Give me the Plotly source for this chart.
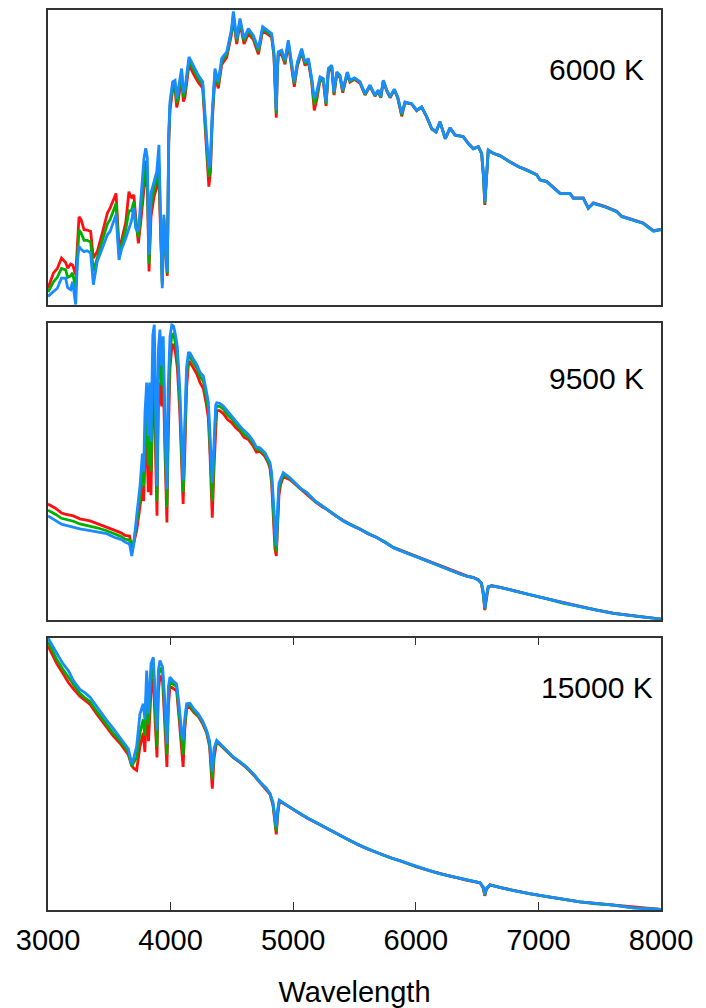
import plotly.graph_objects as go

# ---------------- 6000 K ----------------
wl_6000 = [3000, 3045, 3076, 3110, 3144, 3160, 3185, 3200, 3226, 3240, 3253, 3270, 3294, 3320, 3348, 3370,
           3402, 3440, 3484, 3506, 3538, 3555, 3579, 3600, 3634, 3660, 3680, 3700, 3715, 3737, 3756, 3770,
           3783, 3797, 3810, 3824, 3840, 3865, 3887, 3905, 3918, 3932, 3945, 3955, 3973, 3985, 3995, 4017,
           4036, 4050, 4063, 4090, 4104, 4117, 4150, 4185, 4226, 4262, 4281, 4300, 4312, 4325, 4340, 4362,
           4389, 4417, 4458, 4498, 4512, 4539, 4566, 4599, 4634, 4675, 4716, 4751, 4790, 4824, 4843, 4852,
           4862, 4870, 4878, 4906, 4933, 4960, 4988, 5009, 5034, 5069, 5096, 5124, 5151, 5172, 5192, 5219,
           5246, 5268, 5287, 5314, 5333, 5355, 5382, 5404, 5441, 5463, 5500, 5545, 5586, 5626, 5667, 5694,
           5714, 5735, 5763, 5790, 5825, 5852, 5885, 5912, 5967, 6007, 6048, 6089, 6130, 6165, 6197, 6241,
           6279, 6320, 6387, 6428, 6469, 6510, 6537, 6552, 6563, 6575, 6591, 6632, 6687, 6768, 6836, 6905,
           6986, 7013, 7068, 7176, 7258, 7285, 7366, 7407, 7448, 7543, 7639, 7680, 7774, 7856, 7938, 8000]
red_6000 = [5.8, 11.0, 12.5, 16.0, 14.5, 12.6, 14.0, 13.7, 10.4, 22.0, 30.0, 29.0, 25.6, 25.5, 25.0, 16.0,
            18.2, 24.0, 31.2, 32.9, 36.0, 37.9, 19.9, 22.0, 28.0, 38.5, 36.3, 37.4, 30.0, 21.0, 28.0, 33.4,
            40.0, 45.3, 40.0, 11.5, 30.0, 36.8, 40.0, 42.5, 25.0, 8.0, 28.0, 20.0, 10.0, 55.0, 66.0, 73.0,
            73.5, 67.0, 69.5, 77.5, 69.0, 70.5, 81.5, 78.5, 75.5, 73.5, 61.0, 50.0, 40.2, 45.0, 62.5, 77.5,
            73.5, 81.5, 84.0, 92.0, 97.5, 88.5, 95.5, 88.5, 92.0, 90.0, 85.0, 93.0, 91.8, 90.8, 84.3, 73.0,
            63.5, 78.5, 84.5, 85.0, 81.6, 88.5, 80.0, 74.0, 81.0, 85.8, 81.2, 82.5, 75.5, 66.0, 69.5, 76.2,
            75.8, 67.5, 79.2, 80.5, 71.2, 78.2, 77.2, 72.0, 78.3, 75.6, 76.5, 75.2, 71.2, 74.2, 70.8, 72.6,
            70.3, 75.9, 72.6, 70.3, 72.9, 70.3, 64.0, 68.6, 68.1, 65.9, 67.1, 63.7, 59.7, 58.7, 62.1, 56.4,
            60.1, 57.7, 57.2, 54.9, 53.1, 53.8, 51.4, 43.5, 34.0, 43.5, 52.5, 51.5, 50.7, 48.6, 47.0, 45.9,
            44.3, 42.5, 42.0, 38.0, 37.9, 36.4, 36.4, 33.0, 34.7, 33.5, 31.9, 30.2, 29.1, 27.9, 25.3, 25.7]
green_6000 = [4.5, 8.0, 9.5, 12.5, 12.0, 9.5, 10.0, 11.0, 6.0, 18.0, 25.5, 24.5, 22.0, 22.0, 21.5, 11.5,
              16.5, 21.5, 27.5, 29.0, 32.5, 34.5, 17.5, 20.5, 25.5, 32.0, 32.0, 35.0, 28.0, 23.0, 31.5, 38.0,
              45.0, 49.0, 45.0, 14.0, 34.0, 39.5, 42.5, 48.0, 27.5, 7.0, 29.5, 21.0, 10.8, 57.0, 67.5, 74.5,
              75.0, 68.5, 71.2, 79.0, 70.5, 72.0, 83.0, 80.0, 76.8, 74.6, 62.8, 52.5, 43.5, 47.5, 64.0, 79.0,
              74.6, 82.6, 85.0, 93.0, 98.5, 89.5, 96.4, 89.5, 93.0, 90.8, 86.0, 93.7, 92.5, 91.4, 85.0, 74.0,
              65.0, 79.2, 85.2, 85.8, 82.3, 89.2, 80.7, 75.0, 81.7, 86.4, 81.8, 83.0, 76.2, 68.0, 71.0, 76.8,
              76.3, 68.2, 79.7, 80.9, 71.8, 78.6, 77.5, 72.5, 78.7, 75.9, 76.8, 75.5, 71.4, 74.4, 71.0, 72.7,
              70.4, 76.0, 72.8, 70.5, 73.0, 70.5, 64.5, 68.7, 68.2, 66.0, 67.1, 63.8, 59.8, 58.7, 62.1, 56.4,
              60.0, 57.6, 57.0, 54.7, 53.0, 53.6, 51.4, 43.8, 34.5, 43.8, 52.5, 51.4, 50.6, 48.5, 46.9, 45.7,
              44.1, 42.4, 41.8, 37.8, 37.8, 36.2, 36.2, 32.8, 34.5, 33.3, 31.7, 30.0, 28.9, 27.7, 25.1, 25.6]
blue_6000 = [3.0, 4.7, 5.8, 9.2, 9.2, 6.0, 5.3, 8.0, 0.3, 14.9, 20.0, 19.0, 18.2, 18.5, 17.7, 7.0,
             14.9, 19.0, 23.9, 25.0, 29.0, 30.7, 15.4, 19.0, 22.7, 26.0, 28.4, 33.0, 26.1, 25.0, 35.1, 43.0,
             49.8, 53.2, 50.0, 17.1, 38.0, 41.9, 45.3, 54.3, 30.0, 5.8, 30.7, 22.0, 11.5, 58.8, 69.0, 75.7,
             76.2, 70.0, 72.9, 80.2, 72.0, 73.4, 84.1, 81.3, 77.9, 75.7, 64.4, 55.0, 46.4, 50.0, 65.5, 80.2,
             75.7, 83.6, 85.8, 93.7, 99.5, 90.3, 97.1, 90.3, 93.7, 91.4, 86.9, 94.3, 93.0, 92.0, 85.8, 75.0,
             66.1, 80.0, 85.8, 86.4, 83.0, 89.8, 81.3, 75.7, 82.4, 86.9, 82.4, 83.6, 76.8, 70.0, 72.3, 77.4,
             76.8, 68.9, 80.2, 81.3, 72.3, 79.0, 77.9, 72.9, 79.0, 76.2, 77.0, 75.7, 71.7, 74.6, 71.2, 72.9,
             70.6, 76.2, 72.9, 70.6, 73.2, 70.6, 65.0, 68.9, 68.3, 66.1, 67.2, 63.9, 59.9, 58.8, 62.2, 56.5,
             60.1, 57.7, 57.1, 54.8, 53.1, 53.7, 51.5, 44.0, 35.1, 44.0, 52.6, 51.5, 50.7, 48.6, 47.0, 45.8,
             44.2, 42.5, 41.9, 37.9, 37.9, 36.3, 36.3, 32.9, 34.6, 33.4, 31.8, 30.1, 29.0, 27.8, 25.2, 25.7]

# ---------------- 9500 K ----------------
wl_9500 = [3000, 3060, 3110, 3140, 3207, 3260, 3343, 3400, 3479, 3540, 3600, 3628, 3665, 3683, 3700, 3723,
           3750, 3770, 3780, 3791, 3805, 3818, 3830, 3840, 3855, 3867, 3878, 3889, 3900, 3913, 3927, 3940,
           3955, 3970, 3980, 3995, 4010, 4025, 4040, 4055, 4075, 4090, 4102, 4115, 4130, 4145, 4158, 4185,
           4213, 4240, 4267, 4290, 4308, 4322, 4340, 4355, 4368, 4376, 4400, 4430, 4465, 4498, 4530, 4566,
           4600, 4634, 4670, 4700, 4729, 4770, 4797, 4811, 4824, 4838, 4851, 4862, 4872, 4884, 4897, 4919,
           4974, 5020, 5055, 5110, 5178, 5230, 5273, 5340, 5409, 5480, 5545, 5610, 5681, 5750, 5817, 5890,
           5953, 6020, 6089, 6160, 6224, 6290, 6360, 6420, 6469, 6510, 6535, 6550, 6563, 6575, 6591, 6619,
           6687, 6795, 6930, 7068, 7200, 7339, 7470, 7611, 7774, 7900, 8000]
red_9500 = [39.0, 37.6, 36.0, 35.6, 35.0, 34.0, 33.3, 32.4, 31.4, 30.2, 29.2, 28.4, 28.2, 24.3, 26.0, 30.0,
            38.0, 45.0, 40.0, 55.0, 60.0, 43.0, 58.0, 42.0, 75.0, 80.0, 55.0, 35.1, 72.0, 80.0, 72.0, 82.0,
            55.0, 32.8, 60.0, 85.0, 92.0, 93.0, 90.0, 85.0, 70.0, 50.0, 39.0, 55.0, 78.0, 86.0, 86.8, 85.0,
            83.0, 80.0, 78.0, 73.0, 68.0, 55.0, 34.4, 52.0, 68.0, 70.5, 70.5, 69.5, 67.5, 66.5, 64.8, 63.5,
            61.5, 60.8, 58.8, 56.5, 56.8, 55.0, 52.8, 51.0, 46.0, 33.0, 24.0, 21.5, 30.0, 42.0, 45.5, 48.2,
            47.2, 45.5, 44.2, 42.5, 39.8, 38.2, 37.2, 35.2, 33.4, 31.8, 30.6, 29.0, 27.8, 26.0, 24.4, 23.2,
            22.2, 21.0, 20.0, 18.8, 17.7, 16.6, 15.5, 14.7, 14.3, 13.5, 12.2, 8.5, 3.2, 7.0, 11.0, 11.5,
            10.9, 9.9, 8.4, 7.1, 5.8, 4.5, 3.3, 2.2, 1.4, 0.7, 0.2]
green_9500 = [36.9, 35.6, 34.2, 33.9, 33.2, 32.3, 31.6, 31.0, 30.0, 29.0, 28.0, 27.2, 26.8, 23.9, 26.5, 32.5,
              41.0, 50.0, 45.0, 62.0, 70.0, 52.0, 68.0, 50.0, 86.0, 90.0, 63.0, 40.0, 82.0, 89.0, 79.0, 89.0,
              60.0, 38.0, 68.0, 90.0, 96.0, 96.5, 93.0, 89.0, 74.0, 54.0, 43.0, 60.0, 82.0, 88.5, 88.8, 86.8,
              85.0, 82.0, 80.5, 75.5, 71.0, 58.0, 40.0, 56.0, 71.0, 72.0, 72.0, 71.0, 69.0, 67.8, 66.0, 64.5,
              62.5, 61.7, 59.8, 57.5, 57.3, 55.7, 53.5, 52.0, 48.0, 36.0, 27.0, 23.0, 34.0, 44.5, 46.5, 49.0,
              47.6, 45.8, 44.4, 42.8, 40.0, 38.5, 37.3, 35.5, 33.3, 31.9, 30.5, 29.1, 27.6, 26.2, 24.3, 23.1,
              22.0, 21.1, 19.9, 18.7, 17.6, 16.5, 15.4, 14.6, 14.2, 13.4, 12.3, 9.0, 3.6, 7.5, 11.0, 11.4,
              10.9, 9.8, 8.3, 7.0, 5.6, 4.4, 3.2, 2.1, 1.3, 0.6, 0.2]
blue_9500 = [35.0, 33.6, 32.2, 31.9, 31.1, 30.6, 30.0, 29.6, 29.0, 27.8, 27.0, 26.2, 25.5, 21.5, 25.5, 35.0,
             45.0, 56.0, 50.0, 69.8, 80.0, 62.0, 80.0, 60.0, 96.0, 99.5, 72.0, 45.0, 91.0, 97.9, 85.5, 95.6,
             65.0, 44.0, 78.0, 95.6, 99.5, 99.0, 96.0, 92.0, 78.0, 58.0, 47.0, 65.0, 85.0, 90.0, 90.0, 88.0,
             86.1, 83.5, 82.2, 77.5, 73.5, 62.0, 46.2, 60.0, 72.5, 73.2, 73.0, 72.1, 70.3, 68.7, 67.0, 65.3,
             63.8, 62.5, 60.5, 58.2, 58.0, 56.3, 54.1, 53.0, 49.6, 39.5, 29.4, 24.9, 37.0, 46.0, 47.4, 49.6,
             47.9, 46.0, 44.5, 42.9, 40.1, 38.6, 37.3, 35.4, 33.3, 31.7, 30.5, 29.0, 27.7, 26.0, 24.3, 23.0,
             22.1, 20.9, 19.9, 18.7, 17.6, 16.5, 15.4, 14.6, 14.2, 13.3, 12.4, 9.5, 3.9, 8.0, 11.2, 11.4,
             10.9, 9.8, 8.4, 7.0, 5.7, 4.4, 3.2, 2.1, 1.3, 0.6, 0.2]

# ---------------- 15000 K ----------------
wl_15000 = [3000, 3035, 3071, 3120, 3166, 3207, 3260, 3300, 3343, 3400, 3479, 3530, 3587, 3630, 3655, 3683,
            3700, 3723, 3750, 3777, 3790, 3805, 3820, 3840, 3859, 3875, 3889, 3900, 3913, 3935, 3950, 3970,
            3982, 3995, 4017, 4049, 4070, 4090, 4102, 4115, 4131, 4158, 4190, 4226, 4260, 4294, 4318, 4340,
            4355, 4376, 4417, 4470, 4512, 4570, 4620, 4680, 4729, 4780, 4811, 4835, 4850, 4862, 4874, 4887,
            4947, 5000, 5055, 5120, 5191, 5260, 5327, 5400, 5463, 5530, 5599, 5670, 5735, 5800, 5871, 5940,
            6007, 6075, 6143, 6210, 6279, 6350, 6415, 6480, 6524, 6550, 6563, 6575, 6605, 6687, 6795, 6930,
            7068, 7200, 7339, 7470, 7611, 7774, 7900, 8000]
red_15000 = [97.0, 94.0, 90.5, 87.0, 83.5, 81.2, 78.5, 77.0, 75.5, 71.8, 67.0, 64.0, 61.2, 58.5, 57.0, 53.0,
             52.0, 51.3, 60.0, 65.0, 58.0, 76.0, 62.0, 80.0, 85.0, 68.0, 56.0, 80.0, 86.0, 84.0, 72.0, 52.5,
             75.0, 82.0, 81.5, 80.5, 70.0, 60.0, 52.5, 66.0, 74.0, 74.5, 72.5, 71.0, 68.5, 65.0, 60.0, 44.5,
             56.0, 61.8, 60.0, 58.0, 55.9, 54.0, 52.2, 49.4, 46.8, 44.5, 42.5, 38.5, 31.0, 27.8, 35.0, 40.0,
             38.4, 36.8, 35.3, 33.6, 31.9, 30.2, 28.6, 26.9, 25.3, 24.0, 22.5, 21.3, 20.1, 19.1, 18.0, 17.0,
             15.8, 14.9, 14.0, 13.3, 12.4, 11.7, 10.9, 10.4, 10.0, 8.0, 5.2, 7.5, 9.2, 8.3, 7.2, 6.0,
             4.9, 3.9, 3.0, 2.4, 1.8, 0.9, 0.5, 0.2]
green_15000 = [98.5, 95.5, 92.0, 88.5, 85.5, 82.5, 79.5, 78.0, 76.5, 72.8, 68.0, 65.0, 62.2, 59.5, 58.0, 52.8,
               54.0, 56.0, 65.0, 70.0, 64.0, 82.0, 68.0, 86.0, 89.0, 72.0, 60.0, 85.0, 89.0, 87.0, 75.0, 57.0,
               79.0, 84.0, 83.0, 82.0, 72.0, 62.0, 57.0, 68.0, 75.0, 75.2, 73.0, 71.5, 69.0, 65.5, 61.0, 48.0,
               58.0, 62.0, 60.2, 58.2, 56.0, 54.2, 52.3, 49.6, 46.9, 44.6, 42.6, 39.0, 32.0, 29.0, 36.0, 40.2,
               38.5, 37.0, 35.4, 33.7, 32.0, 30.3, 28.7, 26.9, 25.4, 24.0, 22.6, 21.3, 20.1, 19.0, 18.1, 16.9,
               15.9, 14.9, 14.0, 13.2, 12.5, 11.6, 11.0, 10.4, 10.0, 8.3, 5.4, 7.8, 9.2, 8.2, 7.1, 5.9,
               4.9, 3.9, 3.0, 2.3, 1.8, 0.8, 0.5, 0.2]
blue_15000 = [99.9, 97.0, 94.0, 90.5, 87.9, 84.2, 81.0, 79.8, 78.1, 74.5, 69.6, 66.8, 63.5, 60.6, 59.2, 53.7,
              56.0, 60.0, 72.0, 75.7, 70.0, 87.9, 72.0, 90.4, 92.8, 78.0, 66.0, 88.0, 91.6, 89.1, 79.0, 61.0,
              82.0, 85.5, 84.2, 83.0, 75.0, 65.0, 62.3, 70.0, 75.7, 75.9, 73.8, 72.0, 69.5, 65.9, 62.0, 50.8,
              59.5, 62.3, 60.4, 58.3, 56.2, 54.3, 52.5, 49.8, 47.0, 44.7, 42.7, 39.5, 33.5, 30.5, 37.0, 40.3,
              38.5, 36.9, 35.4, 33.7, 32.0, 30.3, 28.7, 27.0, 25.4, 24.0, 22.6, 21.3, 20.1, 19.1, 18.1, 17.0,
              15.9, 14.9, 14.0, 13.2, 12.5, 11.7, 11.0, 10.4, 10.0, 8.5, 5.6, 8.0, 9.2, 8.3, 7.1, 6.0,
              4.9, 3.9, 3.0, 2.4, 1.8, 0.8, 0.5, 0.2]

labels = ["6000 K", "9500 K", "15000 K"]
tick_vals = [3000, 4000, 5000, 6000, 7000, 8000]
tick_text = ["3000", "4000", "5000", "6000", "7000", "8000"]

colors = {"red": "#ff1010", "green": "#00b000", "blue": "#1a8cff"}
panels = [
    (wl_6000, red_6000, green_6000, blue_6000),
    (wl_9500, red_9500, green_9500, blue_9500),
    (wl_15000, red_15000, green_15000, blue_15000),
]

fig = go.Figure()
for i, (wl, r, g, b) in enumerate(panels):
    ax = "" if i == 0 else str(i + 1)
    for name, ys in (("red", r), ("green", g), ("blue", b)):
        fig.add_trace(go.Scatter(x=wl, y=ys, mode="lines", xaxis="x" + ax, yaxis="y" + ax,
                                 line=dict(color=colors[name], width=2.8), showlegend=False,
                                 hoverinfo="skip"))

# page body offsets the figure by 8 px; figure spans page y 8..1008, x 8..706
OFF = 8
H = 902.0   # plot area: page y 8 .. 910


def frac(ypage):
    return (910 - ypage) / H


domains = [(frac(304), 1.0),
           (frac(619), frac(322)),
           (0.0, frac(637))]

font = "Liberation Sans, Arial, sans-serif"
layout = dict(
    width=706 - OFF, height=1008 - OFF,
    margin=dict(l=48 - OFF, r=45, t=0, b=98),
    paper_bgcolor="white", plot_bgcolor="white",
    font=dict(family=font, color="black", size=29),
)
for i in range(3):
    ax = "" if i == 0 else str(i + 1)
    bottom = (i == 2)
    xa = dict(range=[3000, 8000], domain=[0, 1], anchor="y" + ax,
              showgrid=False, zeroline=False, showline=True, linecolor="#333", linewidth=1.5,
              mirror="ticks" if bottom else True,
              ticks="inside" if bottom else "", ticklen=8, tickwidth=1.2, tickcolor="#333",
              tickvals=tick_vals, ticktext=tick_text, showticklabels=bottom,
              tickfont=dict(size=29, family=font))
    if bottom:
        xa["title"] = dict(text="Wavelength", font=dict(size=29, family=font), standoff=28)
        xa["ticklabelstandoff"] = 3
    ya = dict(range=[0, 100], domain=list(domains[i]), anchor="x" + ax,
              showgrid=False, zeroline=False, showline=True, linecolor="#333", linewidth=1.5,
              mirror=True, ticks="", showticklabels=False)
    layout["xaxis" + ax] = xa
    layout["yaxis" + ax] = ya

fig.update_layout(**layout)

ann_pos = [(646, 68), (646, 377), (655, 687)]
for lab, (xp, yp) in zip(labels, ann_pos):
    fig.add_annotation(text=lab, x=(xp - 48) / 613.0, y=frac(yp), xref="paper", yref="paper",
                       xanchor="right", yanchor="middle", showarrow=False,
                       font=dict(size=30, family=font, color="black"))

fig.write_html("out.html")
